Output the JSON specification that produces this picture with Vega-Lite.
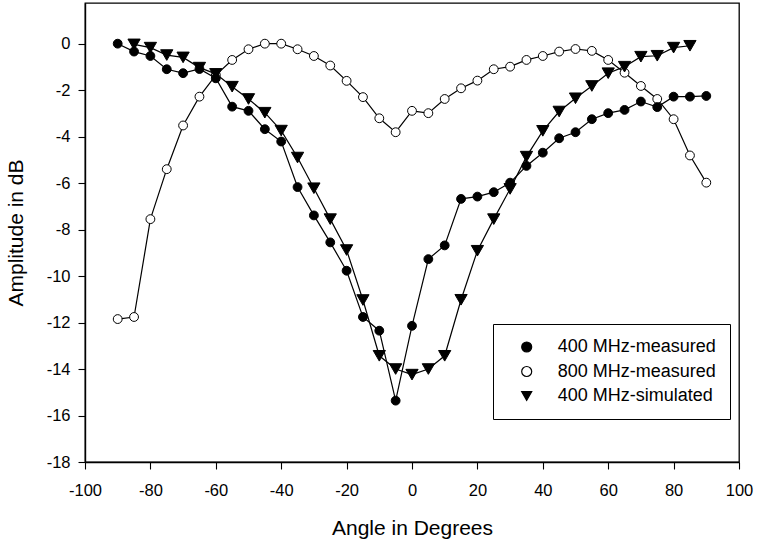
{
  "$schema": "https://vega.github.io/schema/vega-lite/v6.json",
  "width": 654,
  "height": 459,
  "autosize": {"type": "none"},
  "padding": {"left": 85, "top": 3, "right": 19, "bottom": 80},
  "background": "white",
  "config": {
    "font": "Liberation Sans",
    "view": {"stroke": "black", "strokeWidth": 1.3},
    "axis": {
      "grid": false,
      "domainColor": "black",
      "domainWidth": 1.4,
      "tickColor": "black",
      "tickWidth": 1.1,
      "tickSize": 7,
      "labelFont": "Liberation Sans",
      "labelFontSize": 16.5,
      "labelColor": "black",
      "titleFont": "Liberation Sans",
      "titleFontSize": 21,
      "titleFontWeight": "normal",
      "titleColor": "black",
      "labelExpr": "'' + datum.value"
    },
    "legend": {
      "orient": "none",
      "legendX": 408,
      "legendY": 321,
      "padding": 14,
      "strokeColor": "black",
      "fillColor": "white",
      "labelFont": "Liberation Sans",
      "labelFontSize": 18,
      "labelColor": "black",
      "labelLimit": 400,
      "symbolSize": 100,
      "symbolStrokeWidth": 1.2,
      "rowPadding": 6.5,
      "labelOffset": 22,
      "symbolOffset": 10.7
    }
  },
  "data": {
    "values": [
      {"series": "800 MHz-measured", "angle": -90, "amplitude": -11.85},
      {"series": "800 MHz-measured", "angle": -85, "amplitude": -11.76},
      {"series": "800 MHz-measured", "angle": -80, "amplitude": -7.55},
      {"series": "800 MHz-measured", "angle": -75, "amplitude": -5.40},
      {"series": "800 MHz-measured", "angle": -70, "amplitude": -3.52},
      {"series": "800 MHz-measured", "angle": -65, "amplitude": -2.28},
      {"series": "800 MHz-measured", "angle": -60, "amplitude": -1.35},
      {"series": "800 MHz-measured", "angle": -55, "amplitude": -0.70},
      {"series": "800 MHz-measured", "angle": -50, "amplitude": -0.24},
      {"series": "800 MHz-measured", "angle": -45, "amplitude": 0.0},
      {"series": "800 MHz-measured", "angle": -40, "amplitude": 0.0},
      {"series": "800 MHz-measured", "angle": -35, "amplitude": -0.24},
      {"series": "800 MHz-measured", "angle": -30, "amplitude": -0.53},
      {"series": "800 MHz-measured", "angle": -25, "amplitude": -0.94},
      {"series": "800 MHz-measured", "angle": -20, "amplitude": -1.60},
      {"series": "800 MHz-measured", "angle": -15, "amplitude": -2.30},
      {"series": "800 MHz-measured", "angle": -10, "amplitude": -3.21},
      {"series": "800 MHz-measured", "angle": -5, "amplitude": -3.81},
      {"series": "800 MHz-measured", "angle": 0, "amplitude": -2.89},
      {"series": "800 MHz-measured", "angle": 5, "amplitude": -2.99},
      {"series": "800 MHz-measured", "angle": 10, "amplitude": -2.38},
      {"series": "800 MHz-measured", "angle": 15, "amplitude": -1.92},
      {"series": "800 MHz-measured", "angle": 20, "amplitude": -1.59},
      {"series": "800 MHz-measured", "angle": 25, "amplitude": -1.10},
      {"series": "800 MHz-measured", "angle": 30, "amplitude": -0.99},
      {"series": "800 MHz-measured", "angle": 35, "amplitude": -0.70},
      {"series": "800 MHz-measured", "angle": 40, "amplitude": -0.53},
      {"series": "800 MHz-measured", "angle": 45, "amplitude": -0.34},
      {"series": "800 MHz-measured", "angle": 50, "amplitude": -0.23},
      {"series": "800 MHz-measured", "angle": 55, "amplitude": -0.31},
      {"series": "800 MHz-measured", "angle": 60, "amplitude": -0.70},
      {"series": "800 MHz-measured", "angle": 65, "amplitude": -1.25},
      {"series": "800 MHz-measured", "angle": 70, "amplitude": -1.82},
      {"series": "800 MHz-measured", "angle": 75, "amplitude": -2.38},
      {"series": "800 MHz-measured", "angle": 80, "amplitude": -3.25},
      {"series": "800 MHz-measured", "angle": 85, "amplitude": -4.81},
      {"series": "800 MHz-measured", "angle": 90, "amplitude": -5.98},
      {"series": "400 MHz-simulated", "angle": -85, "amplitude": -0.03},
      {"series": "400 MHz-simulated", "angle": -80, "amplitude": -0.17},
      {"series": "400 MHz-simulated", "angle": -75, "amplitude": -0.49},
      {"series": "400 MHz-simulated", "angle": -70, "amplitude": -0.59},
      {"series": "400 MHz-simulated", "angle": -65, "amplitude": -1.03},
      {"series": "400 MHz-simulated", "angle": -60, "amplitude": -1.30},
      {"series": "400 MHz-simulated", "angle": -55, "amplitude": -1.85},
      {"series": "400 MHz-simulated", "angle": -50, "amplitude": -2.38},
      {"series": "400 MHz-simulated", "angle": -45, "amplitude": -2.97},
      {"series": "400 MHz-simulated", "angle": -40, "amplitude": -3.74},
      {"series": "400 MHz-simulated", "angle": -35, "amplitude": -4.90},
      {"series": "400 MHz-simulated", "angle": -30, "amplitude": -6.22},
      {"series": "400 MHz-simulated", "angle": -25, "amplitude": -7.55},
      {"series": "400 MHz-simulated", "angle": -20, "amplitude": -8.88},
      {"series": "400 MHz-simulated", "angle": -15, "amplitude": -11.03},
      {"series": "400 MHz-simulated", "angle": -10, "amplitude": -13.43},
      {"series": "400 MHz-simulated", "angle": -5, "amplitude": -14.0},
      {"series": "400 MHz-simulated", "angle": 0, "amplitude": -14.24},
      {"series": "400 MHz-simulated", "angle": 5, "amplitude": -14.0},
      {"series": "400 MHz-simulated", "angle": 10, "amplitude": -13.43},
      {"series": "400 MHz-simulated", "angle": 15, "amplitude": -11.02},
      {"series": "400 MHz-simulated", "angle": 20, "amplitude": -8.91},
      {"series": "400 MHz-simulated", "angle": 25, "amplitude": -7.55},
      {"series": "400 MHz-simulated", "angle": 30, "amplitude": -6.25},
      {"series": "400 MHz-simulated", "angle": 35, "amplitude": -4.86},
      {"series": "400 MHz-simulated", "angle": 40, "amplitude": -3.75},
      {"series": "400 MHz-simulated", "angle": 45, "amplitude": -2.92},
      {"series": "400 MHz-simulated", "angle": 50, "amplitude": -2.35},
      {"series": "400 MHz-simulated", "angle": 55, "amplitude": -1.82},
      {"series": "400 MHz-simulated", "angle": 60, "amplitude": -1.27},
      {"series": "400 MHz-simulated", "angle": 65, "amplitude": -0.99},
      {"series": "400 MHz-simulated", "angle": 70, "amplitude": -0.56},
      {"series": "400 MHz-simulated", "angle": 75, "amplitude": -0.52},
      {"series": "400 MHz-simulated", "angle": 80, "amplitude": -0.17},
      {"series": "400 MHz-simulated", "angle": 85, "amplitude": -0.09},
      {"series": "400 MHz-measured", "angle": -90, "amplitude": 0.0},
      {"series": "400 MHz-measured", "angle": -85, "amplitude": -0.34},
      {"series": "400 MHz-measured", "angle": -80, "amplitude": -0.53},
      {"series": "400 MHz-measured", "angle": -75, "amplitude": -1.10},
      {"series": "400 MHz-measured", "angle": -70, "amplitude": -1.27},
      {"series": "400 MHz-measured", "angle": -65, "amplitude": -1.09},
      {"series": "400 MHz-measured", "angle": -60, "amplitude": -1.49},
      {"series": "400 MHz-measured", "angle": -55, "amplitude": -2.71},
      {"series": "400 MHz-measured", "angle": -50, "amplitude": -2.89},
      {"series": "400 MHz-measured", "angle": -45, "amplitude": -3.68},
      {"series": "400 MHz-measured", "angle": -40, "amplitude": -4.21},
      {"series": "400 MHz-measured", "angle": -35, "amplitude": -6.17},
      {"series": "400 MHz-measured", "angle": -30, "amplitude": -7.39},
      {"series": "400 MHz-measured", "angle": -25, "amplitude": -8.55},
      {"series": "400 MHz-measured", "angle": -20, "amplitude": -9.77},
      {"series": "400 MHz-measured", "angle": -15, "amplitude": -11.76},
      {"series": "400 MHz-measured", "angle": -10, "amplitude": -12.35},
      {"series": "400 MHz-measured", "angle": -5, "amplitude": -15.36},
      {"series": "400 MHz-measured", "angle": 0, "amplitude": -12.14},
      {"series": "400 MHz-measured", "angle": 5, "amplitude": -9.27},
      {"series": "400 MHz-measured", "angle": 10, "amplitude": -8.68},
      {"series": "400 MHz-measured", "angle": 15, "amplitude": -6.68},
      {"series": "400 MHz-measured", "angle": 20, "amplitude": -6.58},
      {"series": "400 MHz-measured", "angle": 25, "amplitude": -6.39},
      {"series": "400 MHz-measured", "angle": 30, "amplitude": -5.98},
      {"series": "400 MHz-measured", "angle": 35, "amplitude": -5.26},
      {"series": "400 MHz-measured", "angle": 40, "amplitude": -4.69},
      {"series": "400 MHz-measured", "angle": 45, "amplitude": -4.07},
      {"series": "400 MHz-measured", "angle": 50, "amplitude": -3.81},
      {"series": "400 MHz-measured", "angle": 55, "amplitude": -3.25},
      {"series": "400 MHz-measured", "angle": 60, "amplitude": -2.99},
      {"series": "400 MHz-measured", "angle": 65, "amplitude": -2.85},
      {"series": "400 MHz-measured", "angle": 70, "amplitude": -2.49},
      {"series": "400 MHz-measured", "angle": 75, "amplitude": -2.73},
      {"series": "400 MHz-measured", "angle": 80, "amplitude": -2.28},
      {"series": "400 MHz-measured", "angle": 85, "amplitude": -2.28},
      {"series": "400 MHz-measured", "angle": 90, "amplitude": -2.25}
    ]
  },
  "encoding": {
    "x": {
      "field": "angle",
      "type": "quantitative",
      "scale": {"domain": [-100, 100], "nice": false, "zero": false},
      "axis": {
        "title": "Angle in Degrees",
        "values": [-100, -80, -60, -40, -20, 0, 20, 40, 60, 80, 100],
        "labelPadding": 13,
        "titlePadding": 19,
        "labelFlush": false
      }
    },
    "y": {
      "field": "amplitude",
      "type": "quantitative",
      "scale": {"domain": [-18, 1.75], "nice": false, "zero": false},
      "axis": {
        "title": "Amplitude in dB",
        "values": [-18, -16, -14, -12, -10, -8, -6, -4, -2, 0],
        "labelPadding": 8,
        "titlePadding": 20,
        "labelFlush": false
      }
    }
  },
  "layer": [
    {
      "mark": {"type": "line", "stroke": "black", "strokeWidth": 1.2},
      "encoding": {"detail": {"field": "series", "type": "nominal"}}
    },
    {
      "mark": {"type": "point", "filled": true, "opacity": 1, "stroke": "black", "strokeWidth": 1},
      "encoding": {
        "shape": {
          "field": "series",
          "type": "nominal",
          "scale": {
            "domain": ["400 MHz-measured", "800 MHz-measured", "400 MHz-simulated"],
            "range": ["circle", "circle", "triangle-down"]
          },
          "legend": {"title": null}
        },
        "fill": {
          "field": "series",
          "type": "nominal",
          "scale": {
            "domain": ["400 MHz-measured", "800 MHz-measured", "400 MHz-simulated"],
            "range": ["black", "white", "black"]
          },
          "legend": {"title": null}
        },
        "size": {
          "condition": {"test": "datum.series === '400 MHz-simulated'", "value": 150},
          "value": 78
        }
      }
    }
  ]
}
